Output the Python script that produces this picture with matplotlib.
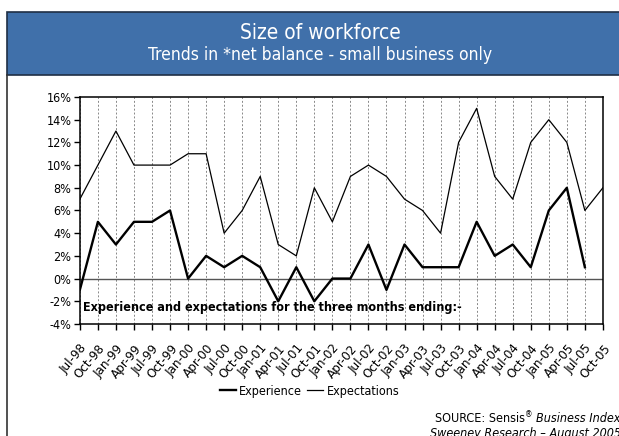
import matplotlib
matplotlib.use("Agg")
import matplotlib.pyplot as plt
from matplotlib.patches import Rectangle
from matplotlib.lines import Line2D

plt.rcParams['font.family'] = ['DejaVu Sans']
plt.rcParams['font.stretch'] = 'condensed'

quarters = ['Jul-98', 'Oct-98', 'Jan-99', 'Apr-99', 'Jul-99', 'Oct-99', 'Jan-00', 'Apr-00',
            'Jul-00', 'Oct-00', 'Jan-01', 'Apr-01', 'Jul-01', 'Oct-01', 'Jan-02', 'Apr-02',
            'Jul-02', 'Oct-02', 'Jan-03', 'Apr-03', 'Jul-03', 'Oct-03', 'Jan-04', 'Apr-04',
            'Jul-04', 'Oct-04', 'Jan-05', 'Apr-05', 'Jul-05', 'Oct-05']

# net balance, %  (no experience figure yet for Oct-05)
experience = [-1, 5, 3, 5, 5, 6, 0, 2, 1, 2, 1, -2, 1, -2, 0, 0,
              3, -1, 3, 1, 1, 1, 5, 2, 3, 1, 6, 8, 1]
expectations = [7, 10, 13, 10, 10, 10, 11, 11, 4, 6, 9, 3, 2, 8, 5, 9,
                10, 9, 7, 6, 4, 12, 15, 9, 7, 12, 14, 12, 6, 8]

yticks = [-4, -2, 0, 2, 4, 6, 8, 10, 12, 14, 16]

fig = plt.figure(figsize=(6.19, 4.36), dpi=100)

# header band
fig.patches.append(Rectangle((0.0113, 0.828), 1.0, 0.1445, transform=fig.transFigure,
                             facecolor='#4070aa', edgecolor='#1f2f45', lw=1.2))
fig.add_artist(Line2D([0.0113, 0.0113], [0, 0.828], transform=fig.transFigure,
                      color='#333333', lw=1.2))
fig.text(0.517, 0.924, 'Size of workforce', color='white', fontsize=15,
         ha='center', va='center')
fig.text(0.517, 0.874, 'Trends in *net balance - small business only', color='white',
         fontsize=12.5, ha='center', va='center')

ax = fig.add_axes([0.129, 0.257, 0.845, 0.5205])
x = list(range(len(quarters)))

for xi in x:
    ax.axvline(xi, color='#888888', lw=0.7, ls=(0, (2, 2)), zorder=1)
ax.axhline(0, color='#555555', lw=1.0, zorder=2)

ax.plot(x[:len(experience)], experience, color='black', lw=1.7, zorder=3, label='Experience')
ax.plot(x, expectations, color='black', lw=0.9, zorder=3, label='Expectations')

ax.set_xlim(0, len(quarters) - 1)
ax.set_ylim(-4, 16)
ax.set_yticks(yticks)
ax.set_yticklabels([f'{v}%' for v in yticks], fontsize=9)
ax.set_xticks(x)
ax.set_xticklabels(quarters, rotation=50, ha='right', rotation_mode='anchor', fontsize=9.5)
ax.tick_params(axis='both', length=4, width=1, direction='out', pad=2)
ax.tick_params(axis='x', pad=9)
for s in ax.spines.values():
    s.set_linewidth(1.1)

ax.text(0.15, -2.55, 'Experience and expectations for the three months ending:-',
        fontsize=9, fontweight='bold', va='center', ha='left', zorder=4)

fig.legend(loc='center', bbox_to_anchor=(0.5, 0.103), ncol=2, frameon=False,
           fontsize=9, handlelength=1.3, handletextpad=0.25, columnspacing=0.4)

# source note, italic part drawn separately and the rest placed to its left
fig.canvas.draw()
italic = fig.text(1.003, 0.039, 'Business Index', fontsize=9, style='italic',
                  ha='right', va='center')
r = fig.canvas.get_renderer()
left = italic.get_window_extent(r).x0 / fig.bbox.width
fig.text(left - 0.019, 0.039, 'SOURCE: Sensis', fontsize=9, ha='right', va='center')
fig.text(left - 0.018, 0.05, '\u00ae', fontsize=6, ha='left', va='center')
fig.text(1.003, 0.006, 'Sweeney Research \u2013 August 2005', fontsize=9, style='italic',
         ha='right', va='center')

fig.savefig('out.png', dpi=100)
